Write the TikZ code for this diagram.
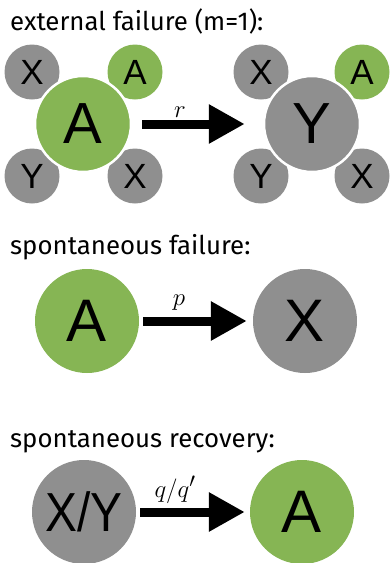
\documentclass[tikz,border=0pt]{standalone}
\usepackage{fontspec}
\setmainfont{Fira Sans}
\newfontfamily\circfont{Liberation Sans}
\usetikzlibrary{arrows.meta}
\definecolor{agreen}{RGB}{134,181,84}
\definecolor{fgray}{RGB}{143,143,143}
\tikzset{
  title/.style={anchor=base west, inner sep=0pt, font=\fontsize{25.8}{30}\selectfont},
  bignode/.style={circle, inner sep=0pt, minimum size=96pt, draw=white, line width=2.5pt, font=\circfont\fontsize{58}{60}\selectfont},
  smallnode/.style={circle, inner sep=0pt, minimum size=55pt, font=\circfont\fontsize{35}{36}\selectfont},
  midnode/.style={circle, inner sep=0pt, minimum size=104pt, font=\circfont\fontsize{60}{62}\selectfont},
  act/.style={fill=agreen},
  dead/.style={fill=fgray},
  bigarrow/.style={line width=9pt, -{Triangle[length=36pt,width=37pt]}},
  lab/.style={anchor=base, inner sep=0pt, font=\fontsize{28}{30}\selectfont}
}
\begin{document}
\begin{tikzpicture}[x=1pt,y=-1pt]
\useasboundingbox (0,0) rectangle (389,563);
% top section
\node[title] (t1) at (10,30) {external failure (m=1):};
\node[smallnode,dead] (l1) at (32,72) {X};
\node[smallnode,act] (l2) at (135,72) {A};
\node[smallnode,dead] (l3) at (32,176) {Y};
\node[smallnode,dead] (l4) at (135,176) {X};
\node[bignode,act] (A1) at (83,124) {A};
\node[smallnode,dead] (r1) at (261,72) {X};
\node[smallnode,act] (r2) at (362,72) {A};
\node[smallnode,dead] (r3) at (261,176) {Y};
\node[smallnode,dead] (r4) at (362,176) {X};
\node[bignode,dead] (Y1) at (312,124) {Y};
\draw[bigarrow, shorten <=10pt, shorten >=18pt] (A1) -- (Y1);
\node[lab] (lr) at (180,117) {$r$};
% middle section
\node[title] (t2) at (10,254) {spontaneous failure:};
\node[midnode,act] (A2) at (87,321) {A};
\node[midnode,dead] (X2) at (305,321) {X};
\draw[bigarrow, shorten <=4pt, shorten >=6pt] (A2) -- (X2);
\node[lab] (lp) at (179,305) {$p$};
% bottom section
\node[title] (t3) at (10,447) {spontaneous recovery:};
\node[midnode,dead,font=\circfont\fontsize{55}{56}\selectfont] (XY3) at (84,512) {\scalebox{0.87}[1]{X/Y}};
\node[midnode,act] (A3) at (302,512) {A};
\draw[bigarrow, shorten <=4pt, shorten >=5pt] (XY3) -- (A3);
\node[lab] (lq) at (175,497) {$q/q'$};
\end{tikzpicture}
\end{document}
